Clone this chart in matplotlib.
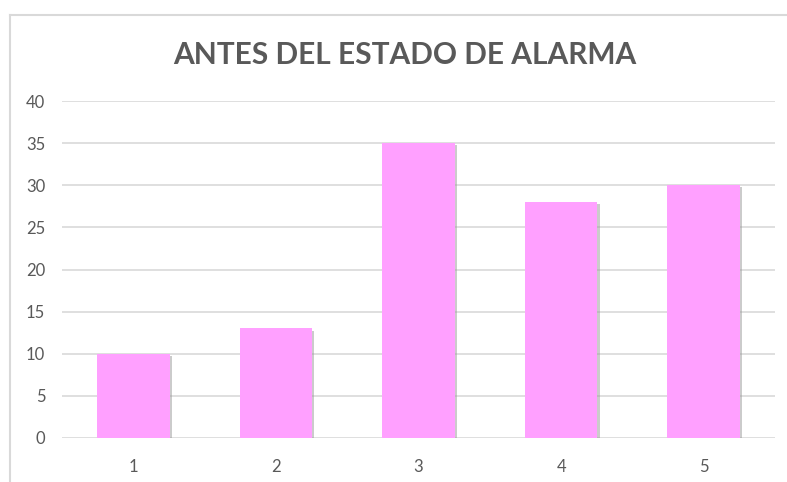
import matplotlib
matplotlib.use("Agg")
import matplotlib.pyplot as plt
import matplotlib.patheffects as pe
from matplotlib.lines import Line2D

categories = ["1", "2", "3", "4", "5"]
values = [10, 13, 35, 28, 30]
yticks = [0, 5, 10, 15, 20, 25, 30, 35, 40]

plt.rcParams['font.family'] = ['Lato', 'DejaVu Sans']

fig = plt.figure(figsize=(7.87, 4.82), dpi=100)
ax = fig.add_axes([62/787, 44/482, 713/787, 337/482])

x = range(len(categories))
bars = ax.bar(x, values, width=0.51, color='#FFA0FF', zorder=3)
for b in bars:
    b.set_path_effects([pe.SimplePatchShadow(offset=(1.5, -1.5), shadow_rgbFace='#999999', alpha=0.5), pe.Normal()])

ax.set_xlim(-0.5, len(categories) - 0.5)
ax.set_ylim(0, 40)
ax.set_yticks(yticks)
ax.set_xticks(list(x))
ax.set_xticklabels(categories)
ax.yaxis.grid(True, color='#D9D9D9', linewidth=1.2, zorder=0)
ax.set_axisbelow(True)
for s in ax.spines.values():
    s.set_visible(False)
ax.tick_params(axis='both', length=0, labelsize=12, labelcolor='#595959')
ax.tick_params(axis='y', pad=12)
ax.tick_params(axis='x', pad=15)

fig.text(405/787, 1 - 55/482, "ANTES DEL ESTADO DE ALARMA", ha='center', va='center',
         fontsize=21.5, fontweight='bold', color='#595959')

# chart border (top and left edges visible)
fig.add_artist(Line2D([10/787, 1], [1 - 14.5/482, 1 - 14.5/482], color='#D9D9D9', lw=1.5))
fig.add_artist(Line2D([10/787, 10/787], [0, 1 - 14.5/482], color='#D9D9D9', lw=1.5))

fig.savefig("out.png", dpi=100)
